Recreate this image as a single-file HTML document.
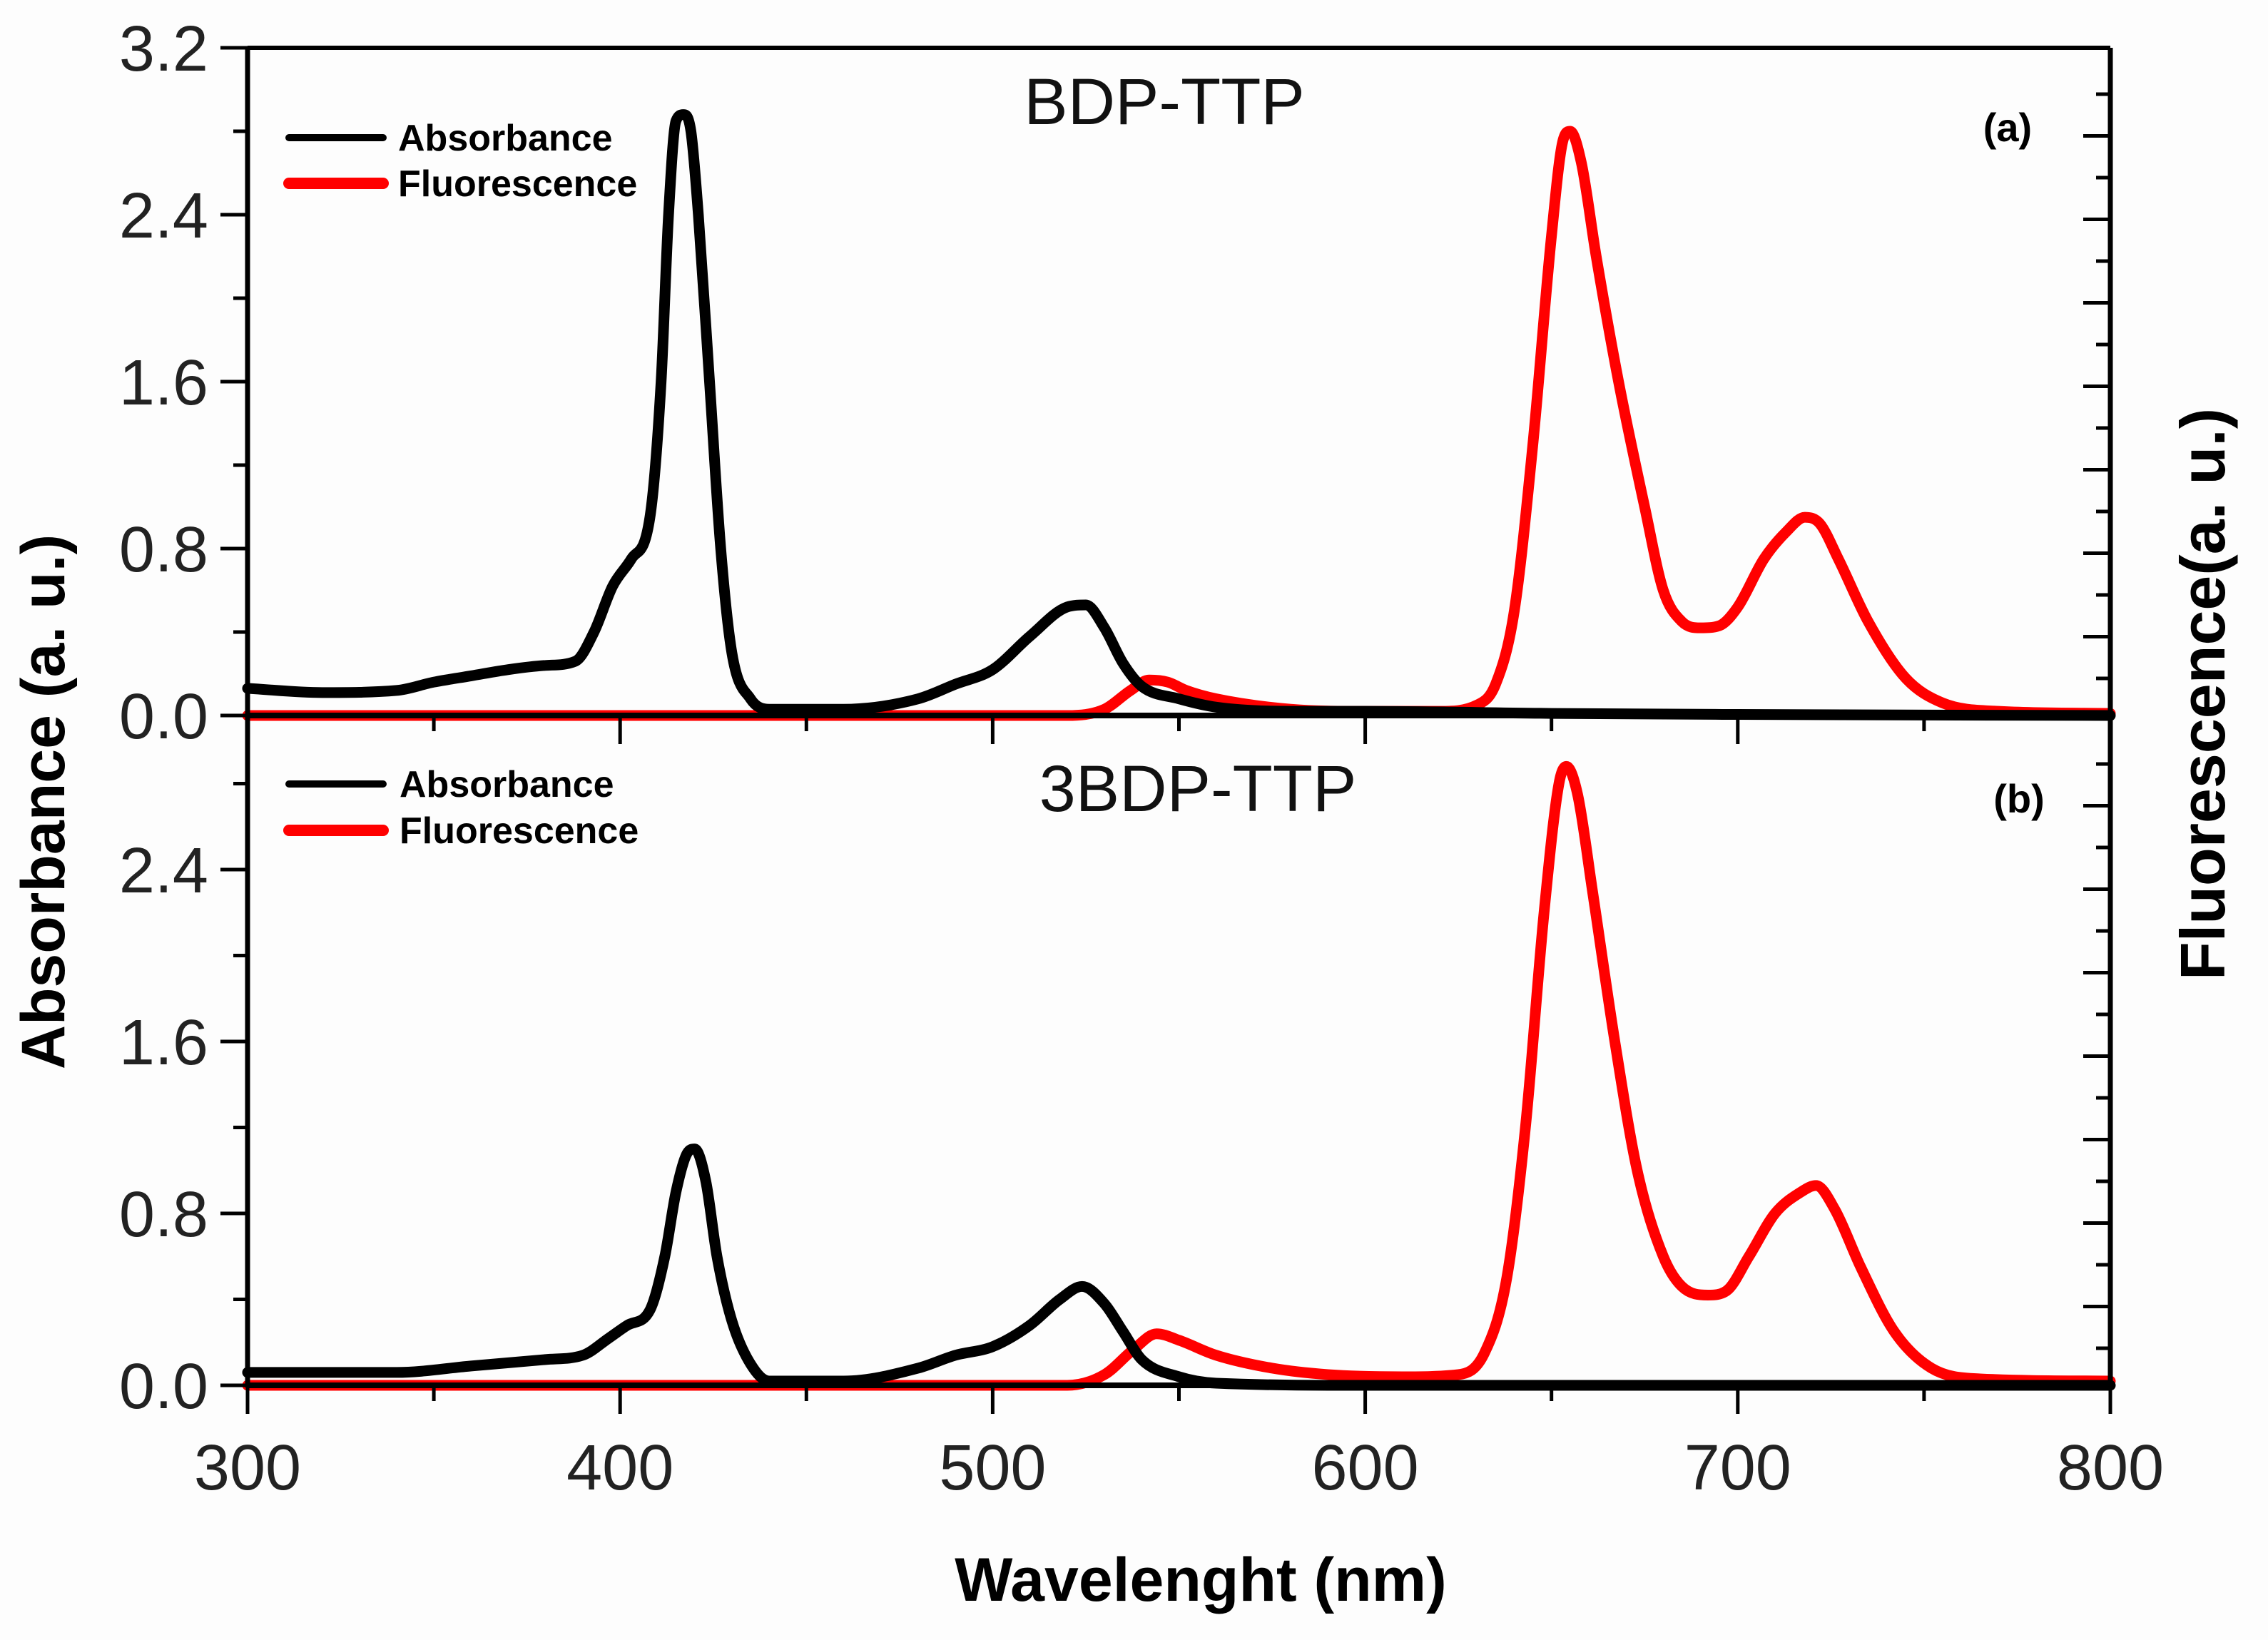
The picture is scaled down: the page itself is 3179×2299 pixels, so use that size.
<!DOCTYPE html>
<html><head><meta charset="utf-8"><style>
html,body{margin:0;padding:0;background:#fff}
svg{display:block}
text{font-family:"Liberation Sans",Arial,sans-serif}
</style></head><body>
<svg id="chart" width="3179" height="2299" viewBox="0 0 3179 2299">
<rect width="3179" height="2299" fill="#fdfdfd"/>
<g id="marks"></g>
<g id="axes"></g>
<text x="1632" y="174" font-size="92" text-anchor="middle" fill="#111">BDP-TTP</text>
<text x="1679" y="1137" font-size="92" text-anchor="middle" fill="#111">3BDP-TTP</text>
<text x="2814" y="198" font-size="56" font-weight="bold" text-anchor="middle">(a)</text>
<text x="2830" y="1139" font-size="56" font-weight="bold" text-anchor="middle">(b)</text>
<g>
<line x1="405" y1="193" x2="537" y2="193" stroke="#000" stroke-width="10" stroke-linecap="round"/>
<text x="558" y="211" font-size="52" font-weight="bold">Absorbance</text>
<line x1="405" y1="257" x2="537" y2="257" stroke="#f00" stroke-width="16" stroke-linecap="round"/>
<text x="558" y="275" font-size="52" font-weight="bold">Fluorescence</text>
</g>
<g>
<line x1="405" y1="1099" x2="537" y2="1099" stroke="#000" stroke-width="10" stroke-linecap="round"/>
<text x="560" y="1117" font-size="52" font-weight="bold">Absorbance</text>
<line x1="405" y1="1164" x2="537" y2="1164" stroke="#f00" stroke-width="16" stroke-linecap="round"/>
<text x="560" y="1182" font-size="52" font-weight="bold">Fluorescence</text>
</g>
<text x="1683" y="2244" font-size="86" font-weight="bold" text-anchor="middle">Wavelenght (nm)</text>
<text transform="translate(90,1124) rotate(-90)" font-size="86" font-weight="bold" text-anchor="middle">Absorbance (a. u.)</text>
<text transform="translate(3118,973) rotate(-90)" font-size="88" font-weight="bold" text-anchor="middle">Fluorescence(a. u.)</text>
</svg>
<script>
const xTicks = [300, 400, 500, 600, 700, 800];
const yTicksA = [0.0, 0.8, 1.6, 2.4, 3.2];
const yTicksB = [0.0, 0.8, 1.6, 2.4];
const absAx = [300,320,340,350,360,370,380,388,393,398,403,408,411,413,415,417,419,421,424,427,430,435,440,460,480,490,500,510,520,525,530,535,540,550,560,580,600,650,700,800];
const absAy = [0.13,0.11,0.12,0.16,0.19,0.22,0.24,0.26,0.4,0.62,0.75,0.95,1.6,2.4,2.85,2.88,2.8,2.4,1.6,0.8,0.3,0.08,0.03,0.03,0.08,0.15,0.22,0.38,0.52,0.53,0.42,0.25,0.14,0.08,0.04,0.02,0.02,0.01,0.005,0];
const fluAx = [300,520,530,537,542,547,552,560,580,600,620,630,635,640,645,650,653,655,658,662,668,675,680,685,690,695,700,707,713,718,722,727,735,745,755,770,800];
const fluAy = [0,0,0.03,0.12,0.17,0.16,0.12,0.08,0.03,0.02,0.02,0.05,0.15,0.5,1.3,2.3,2.75,2.8,2.65,2.2,1.6,1.0,0.6,0.45,0.42,0.43,0.52,0.75,0.88,0.95,0.92,0.75,0.45,0.18,0.06,0.02,0.01];
const absBx = [300,340,360,380,390,397,402,408,412,415,418,420,423,426,430,435,440,460,480,490,500,510,518,524,530,535,540,550,560,600,800];
const absBy = [0.06,0.06,0.09,0.12,0.14,0.22,0.28,0.35,0.6,0.9,1.08,1.1,0.95,0.6,0.3,0.1,0.02,0.02,0.08,0.14,0.18,0.28,0.4,0.46,0.38,0.25,0.12,0.04,0.01,0,0];
const fluBx = [300,520,530,538,544,550,560,575,590,610,625,632,638,643,648,652,654,657,661,667,673,680,685,692,697,703,710,717,721,726,733,742,752,765,800];
const fluBy = [0,0,0.05,0.17,0.24,0.21,0.14,0.08,0.05,0.04,0.05,0.15,0.5,1.2,2.2,2.8,2.88,2.75,2.3,1.6,1.0,0.6,0.46,0.42,0.44,0.6,0.8,0.9,0.93,0.82,0.55,0.25,0.08,0.03,0.02];

const NS = 'http://www.w3.org/2000/svg';
const L = 347, R = 2958, TOP = 67, MID = 1003, BOT = 1942;
const xs = v => L + (v - 300) / 500 * (R - L);
const yA = v => MID - v * (MID - TOP) / 3.2;
const yB = v => BOT - v * 301.25;
const marks = document.getElementById('marks');
const axes = document.getElementById('axes');
function mk(tag, attrs, parent) {
  const e = document.createElementNS(NS, tag);
  for (const k in attrs) e.setAttribute(k, attrs[k]);
  parent.appendChild(e);
  return e;
}
// monotone cubic (Fritsch-Carlson) to avoid overshoot
function curve(xa, ya, ys, color, name) {
  const X = xa.map(xs), Y = ya.map(ys), n = X.length;
  const d0 = [], m = [];
  for (let i = 0; i < n - 1; i++) d0.push((Y[i + 1] - Y[i]) / (X[i + 1] - X[i]));
  m[0] = d0[0]; m[n - 1] = d0[n - 2];
  for (let i = 1; i < n - 1; i++) m[i] = (d0[i - 1] * d0[i] <= 0) ? 0 : (d0[i - 1] + d0[i]) / 2;
  for (let i = 0; i < n - 1; i++) {
    if (d0[i] === 0) { m[i] = 0; m[i + 1] = 0; continue; }
    const a = m[i] / d0[i], b = m[i + 1] / d0[i], s = a * a + b * b;
    if (s > 9) { const t = 3 / Math.sqrt(s); m[i] = t * a * d0[i]; m[i + 1] = t * b * d0[i]; }
  }
  let d = 'M' + X[0] + ',' + Y[0];
  for (let i = 0; i < n - 1; i++) {
    const h = (X[i + 1] - X[i]) / 3;
    d += ' C' + (X[i] + h) + ',' + (Y[i] + m[i] * h) + ' ' + (X[i + 1] - h) + ',' + (Y[i + 1] - m[i + 1] * h) + ' ' + X[i + 1] + ',' + Y[i + 1];
  }
  const el = mk('path', {d: d, fill: 'none', stroke: color, 'stroke-width': 15, 'stroke-linejoin': 'round', 'stroke-linecap': 'round'}, marks);
  
  
}
curve(fluAx, fluAy, yA, '#f00', 'fluorescence-line-a');
curve(absAx, absAy, yA, '#000', 'absorbance-line-a');
curve(fluBx, fluBy, yB, '#f00', 'fluorescence-line-b');
curve(absBx, absBy, yB, '#000', 'absorbance-line-b');

function ln(x1, y1, x2, y2, w, name) {
  const e = mk('line', {x1: x1, y1: y1, x2: x2, y2: y2, stroke: '#000', 'stroke-width': w}, axes);
  
  
}
function txt(x, y, s, anchor, name) {
  const e = mk('text', {x: x, y: y, 'font-size': 90, 'text-anchor': anchor, fill: '#222'}, axes);
  e.textContent = s;
  
  
}
ln(L, TOP, R, TOP, 6, 'top-frame');
ln(L, MID, R, MID, 8, 'panel-divider-axis');
ln(L, BOT, R, BOT, 8, 'x-axis-line');
ln(L, TOP, L, BOT + 3, 7, 'left-axis-line');
ln(R, TOP, R, BOT + 3, 7, 'right-axis-line');
for (let v = 300; v <= 800; v += 50) {
  const major = v % 100 === 0;
  const len = major ? 40 : 22;
  ln(xs(v), MID, xs(v), MID + len, 5, 'x-tick-a');
  ln(xs(v), BOT, xs(v), BOT + len, 5, 'x-tick-b');
}
xTicks.forEach(v => txt(xs(v), 2088, String(v), 'middle', 'x-tick-label'));
for (let v = 0; v <= 3.2001; v += 0.4) {
  const major = Math.abs(v / 0.8 - Math.round(v / 0.8)) < 1e-6;
  ln(L - (major ? 38 : 20), yA(v), L, yA(v), 5, 'y-tick-a');
}
for (let v = 0; v <= 3.1; v += 0.4) {
  const major = Math.abs(v / 0.8 - Math.round(v / 0.8)) < 1e-6;
  ln(L - (major ? 38 : 20), yB(v), L, yB(v), 5, 'y-tick-b');
}
yTicksA.forEach(v => txt(292, yA(v) + 32, v.toFixed(1), 'end', 'y-tick-label-a'));
yTicksB.forEach(v => txt(292, yB(v) + 32, v.toFixed(1), 'end', 'y-tick-label-b'));
[[MID, TOP], [BOT, MID]].forEach(([bot, top], pi) => {
  let k = 0;
  for (let y = bot - 52; y > top + 10; y -= 58.5, k++) {
    const major = k % 2 === 1;
    ln(R - (major ? 38 : 20), y, R, y, 5, pi === 0 ? 'right-tick-a' : 'right-tick-b');
  }
});
</script>
</body></html>
